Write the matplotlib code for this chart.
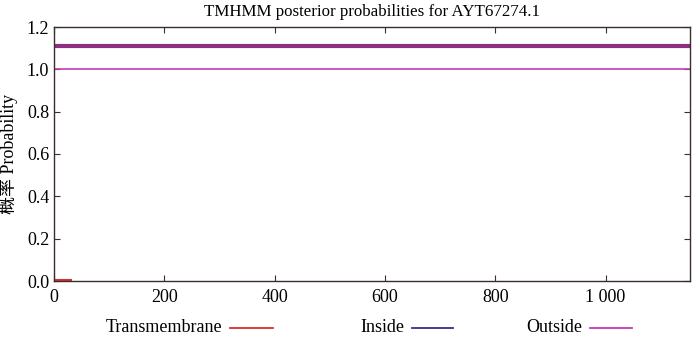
import matplotlib
matplotlib.use("Agg")
import matplotlib.pyplot as plt
from matplotlib.lines import Line2D

# Data
seq_length = 1153
outside_pos = [1, 1153]
outside_prob = [1.0, 1.0]
inside_pos = [1, 12]
inside_prob = [0.0, 0.0]
tm_pos = [1, 30]
tm_prob = [0.004, 0.004]
topology_pos = [1, 1153]
topology_level = [1.11, 1.11]

xticks = [0, 200, 400, 600, 800, 1000]
xtick_labels = ["0", "200", "400", "600", "800", "1 000"]
yticks = [0.0, 0.2, 0.4, 0.6, 0.8, 1.0, 1.2]
ytick_labels = ["0.0", "0.2", "0.4", "0.6", "0.8", "1.0", "1.2"]

serif = ["Liberation Serif", "Noto Sans CJK SC", "DejaVu Serif"]
plt.rcParams['font.family'] = serif

fig = plt.figure(figsize=(7.0, 3.43), dpi=100)
ax = fig.add_axes([54/700, 1 - 281/343, (690-54)/700, (281-27)/343])

c_tm = "#d9302c"
c_in = "#3b2a8a"
c_out = "#c23cb4"
c_top = "#8e2f82"

ax.plot(topology_pos, topology_level, color=c_top, lw=3.0, solid_capstyle='butt')
ax.plot(outside_pos, outside_prob, color=c_out, lw=1.2)
ax.plot(inside_pos, inside_prob, color=c_in, lw=1.5)
ax.plot(tm_pos, tm_prob, color=c_tm, lw=1.5)

ax.set_xlim(0, seq_length)
ax.set_ylim(0, 1.2)
ax.set_xticks(xticks)
ax.set_xticklabels(xtick_labels)
ax.set_yticks(yticks)
ax.set_yticklabels(ytick_labels)
ax.tick_params(direction='in', top=True, right=True, length=4, width=0.8,
               labelsize=13, color="#333333")
ax.tick_params(axis='x', pad=6)
for s in ax.spines.values():
    s.set_color("#3a2e2a")
    s.set_linewidth(1.0)

ax.set_title("TMHMM posterior probabilities for AYT67274.1", fontsize=12.2, pad=8)
ax.set_ylabel("概率 Probability", fontsize=13, family=serif, labelpad=6)

# legend
y_leg = 1 - 328/343
entries = [("Transmembrane", c_tm, 222/700, 230/700, 273/700),
           ("Inside", c_in, 404/700, 412/700, 453/700),
           ("Outside", c_out, 582/700, 590/700, 632/700)]
for label, col, tx, x0, x1 in entries:
    fig.text(tx, y_leg, label, ha='right', va='center', fontsize=13)
    fig.add_artist(Line2D([x0, x1], [y_leg, y_leg], color=col, lw=1.3,
                          transform=fig.transFigure))

fig.savefig("out.png", dpi=100)
